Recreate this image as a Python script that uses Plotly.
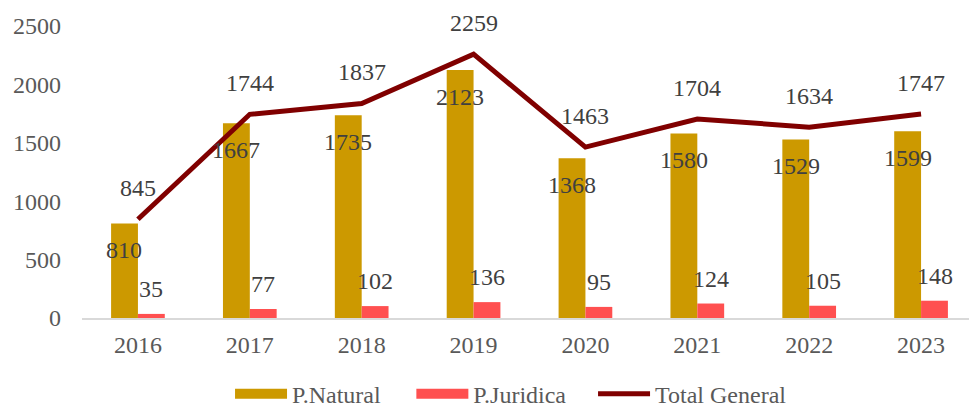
import plotly.graph_objects as go

years = ["2016", "2017", "2018", "2019", "2020", "2021", "2022", "2023"]
natural = [810, 1667, 1735, 2123, 1368, 1580, 1529, 1599]
juridica = [35, 77, 102, 136, 95, 124, 105, 148]
total = [845, 1744, 1837, 2259, 1463, 1704, 1634, 1747]

C_NAT = "#CC9900"
C_JUR = "#FF5050"
C_TOT = "#800000"
FONT = "Liberation Serif"

fig = go.Figure()
fig.add_trace(go.Bar(x=years, y=natural, name="P.Natural", marker=dict(color=C_NAT, line=dict(width=0)),
                     showlegend=False))
fig.add_trace(go.Bar(x=years, y=juridica, name="P.Juridica", marker=dict(color=C_JUR, line=dict(width=0)),
                     showlegend=False))
fig.add_trace(go.Scatter(x=years, y=total, name="Total General", mode="lines",
                         line=dict(color=C_TOT, width=5), showlegend=False))

# legend proxies, each in its own legend box
fig.add_trace(go.Scatter(x=[years[0]], y=[None], mode="lines", name="P.Natural",
                         line=dict(color=C_NAT, width=12), legend="legend"))
fig.add_trace(go.Scatter(x=[years[0]], y=[None], mode="lines", name="P.Juridica",
                         line=dict(color=C_JUR, width=12), legend="legend2"))
fig.add_trace(go.Scatter(x=[years[0]], y=[None], mode="lines", name="Total General",
                         line=dict(color=C_TOT, width=5), legend="legend3"))

ann = []
for i in range(len(years)):
    ann.append(dict(x=i, y=natural[i], text=str(natural[i]), showarrow=False,
                    xshift=-13.5, yshift=-27, font=dict(size=24, color="#404040", family=FONT)))
    ann.append(dict(x=i, y=juridica[i], text=str(juridica[i]), showarrow=False,
                    xshift=13.5, yshift=25, font=dict(size=24, color="#404040", family=FONT)))
    ann.append(dict(x=i, y=total[i], text=str(total[i]), showarrow=False,
                    yshift=31, font=dict(size=24, color="#404040", family=FONT)))

def leg(x):
    return dict(orientation="h", x=x, xanchor="left", y=-0.261, yanchor="middle",
                font=dict(size=24, color="#595959", family=FONT), itemwidth=52,
                bgcolor="rgba(0,0,0,0)")

fig.update_layout(
    width=969, height=399,
    margin=dict(l=74, r=0, t=18, b=89, autoexpand=False),
    plot_bgcolor="white", paper_bgcolor="white",
    barmode="group", bargap=0.52, bargroupgap=0,
    font=dict(family=FONT, size=24, color="#595959"),
    annotations=ann,
    legend=leg(0.1654), legend2=leg(0.368), legend3=leg(0.571),
    xaxis=dict(type="category", range=[-0.5, 7.5], autorange=False, showline=True,
               linecolor="#D9D9D9", linewidth=1.5, ticks="", showgrid=False,
               tickfont=dict(size=24, color="#595959", family=FONT), ticklabelstandoff=4),
    yaxis=dict(range=[0, 2500], dtick=500, showgrid=False, zeroline=False, showline=False,
               ticks="", tickfont=dict(size=24, color="#595959", family=FONT), ticklabelstandoff=20),
)

fig.write_html("out.html")
